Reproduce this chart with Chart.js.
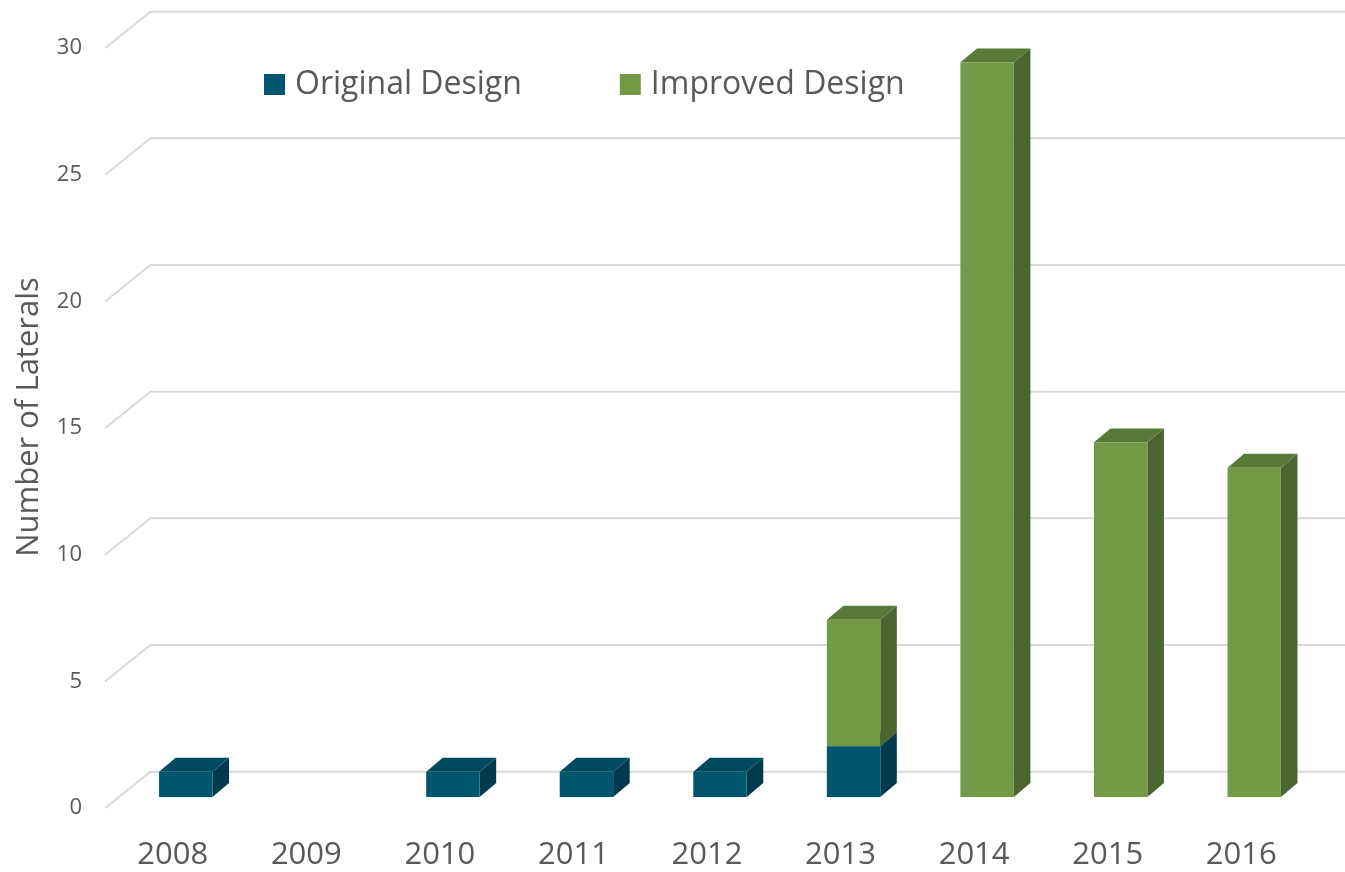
<!DOCTYPE html>
<html>
<head>
<meta charset="utf-8">
<script src="https://cdn.jsdelivr.net/npm/chart.js@4.4.0/dist/chart.umd.min.js"></script>
<style>
  html, body { margin: 0; padding: 0; background: #fff; }
  canvas { display: block; }
</style>
</head>
<body>
<canvas id="laterals-chart" width="1345" height="872"></canvas>
<script>
var years = ["2008", "2009", "2010", "2011", "2012", "2013", "2014", "2015", "2016"];
var originalValues = [1, 0, 1, 1, 1, 2, 0, 0, 0];
var improvedValues = [0, 0, 0, 0, 0, 5, 29, 14, 13];
var yTicks = [0, 5, 10, 15, 20, 25, 30];

var OriginalColor = "#00566F"; // front of original bars
var ImprovedColor = "#729A46"; // front of improved bars
var textColor = "#595959";
var gridColor = "#D9D9D9";

// back wall gridlines with the little diagonal in front, like excel 3d
var wallGrid = {
  id: "wallGrid",
  beforeDatasetsDraw: function (chart) {
    var ctx = chart.ctx;
    var y = chart.scales.y;
    var area = chart.chartArea;
    var unit = y.getPixelForValue(0) - y.getPixelForValue(1);
    var backDy = unit;          // back wall sits one unit up
    var backDx = unit * 1.24;
    var frontDy = unit * 0.44;  // grid front edge, below bar front
    var frontDx = unit * 0.55;
    ctx.save();
    ctx.strokeStyle = gridColor;
    ctx.lineWidth = 2;
    yTicks.forEach(function (v) {
      var py = y.getPixelForValue(v);
      ctx.beginPath();
      ctx.moveTo(area.left - frontDx, py + frontDy);
      ctx.lineTo(area.left + backDx, py - backDy);
      ctx.lineTo(chart.width, py - backDy);
      ctx.stroke();
    });
    ctx.restore();
  }
};

// top and right faces of each bar, drawn before the fronts
var barFaces = {
  id: "barFaces",
  beforeDatasetsDraw: function (chart) {
    var ctx = chart.ctx;
    ctx.save();
    chart.data.datasets.forEach(function (ds, i) {
      var meta = chart.getDatasetMeta(i);
      meta.data.forEach(function (bar, j) {
        if (!ds.data[j]) return;
        var p = bar.getProps(["x", "y", "base", "width"], true);
        var l = p.x - p.width / 2, r = p.x + p.width / 2;
        var dx = p.width * 0.31, dy = p.width * 0.26;
        // right side
        ctx.fillStyle = ds.sideColor;
        ctx.beginPath();
        ctx.moveTo(r, p.base);
        ctx.lineTo(r, p.y);
        ctx.lineTo(r + dx, p.y - dy);
        ctx.lineTo(r + dx, p.base - dy);
        ctx.closePath();
        ctx.fill();
        // top
        ctx.fillStyle = ds.topColor;
        ctx.beginPath();
        ctx.moveTo(l, p.y);
        ctx.lineTo(l + dx, p.y - dy);
        ctx.lineTo(r + dx, p.y - dy);
        ctx.lineTo(r, p.y);
        ctx.closePath();
        ctx.fill();
      });
    });
    ctx.restore();
  }
};

// legend inside the plot, top left
var innerLegend = {
  id: "innerLegend",
  afterDraw: function (chart) {
    var ctx = chart.ctx;
    var area = chart.chartArea;
    var x = area.left + 145;
    var cy = 84;
    ctx.save();
    ctx.font = "32px 'Open Sans'";
    ctx.textBaseline = "middle";
    chart.data.datasets.forEach(function (ds) {
      ctx.fillStyle = ds.backgroundColor;
      ctx.fillRect(x, cy - 10, 21, 21);
      ctx.fillStyle = textColor;
      ctx.fillText(ds.label, x + 31, cy + 1);
      x += 31 + ctx.measureText(ds.label).width + 98;
    });
    ctx.restore();
  }
};

new Chart("laterals-chart", {
  type: "bar",
  data: {
    labels: years,
    datasets: [
      {
        label: "Original Design",
        backgroundColor: OriginalColor,
        sideColor: "#003A4C",
        topColor: "#004A60",
        data: originalValues,
      },
      {
        label: "Improved Design",
        backgroundColor: ImprovedColor,
        sideColor: "#4A6530",
        topColor: "#587A37",
        data: improvedValues,
      },
    ],
  },
  options: {
    responsive: false,
    animation: false,
    devicePixelRatio: 1,
    layout: { padding: { top: 37, right: 24, left: 0, bottom: 0 } },
    datasets: { bar: { categoryPercentage: 1, barPercentage: 0.4, borderWidth: 0 } },
    plugins: {
      legend: { display: false },
      title: { display: false },
      tooltip: { enabled: false },
    },
    scales: {
      x: {
        stacked: true,
        grid: { display: false, drawTicks: false },
        border: { display: false },
        ticks: {
          color: textColor,
          font: { family: "'Open Sans'", size: 31 },
          padding: 40,
          labelOffset: -13,
          maxRotation: 0,
        },
        afterFit: function (scale) { scale.height = 75; },
      },
      y: {
        stacked: true,
        min: 0,
        max: 30,
        grid: { display: false, drawTicks: false },
        border: { display: false },
        ticks: {
          stepSize: 5,
          color: textColor,
          font: { family: "'Open Sans'", size: 22 },
          padding: 37,
          labelOffset: 11,
        },
        title: {
          display: true,
          text: "Number of Laterals",
          color: textColor,
          font: { family: "'Open Sans'", size: 31 },
          padding: { top: 11, bottom: 0 },
        },
        afterFit: function (scale) {
          scale.width = 119;
          scale.paddingTop = 0; // tick padding would otherwise push the plot down
          scale.paddingBottom = 0;
        },
      },
    },
  },
  plugins: [wallGrid, barFaces, innerLegend],
});
</script>
</body>
</html>
